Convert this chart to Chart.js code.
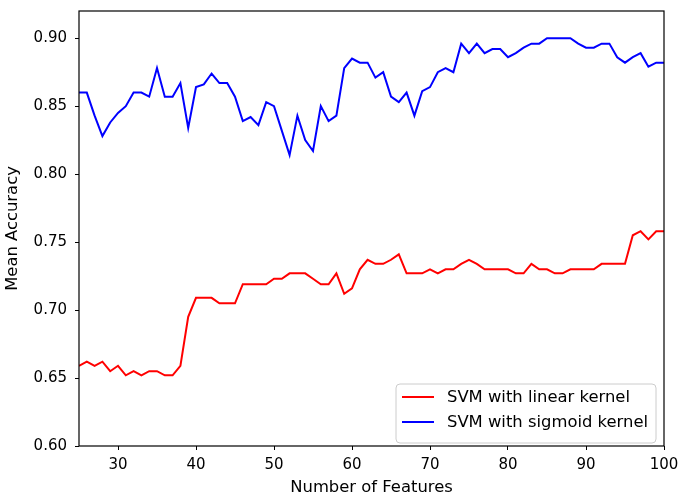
<!DOCTYPE html>
<html>
<head>
<meta charset="utf-8">
<script src="https://cdn.jsdelivr.net/npm/chart.js@4"></script>
<style>
  html, body { margin: 0; padding: 0; background: #fff; }
  canvas { display: block; }
</style>
</head>
<body>
<canvas id="c" width="678" height="495"></canvas>
<script>
const features = [25,26,27,28,29,30,31,32,33,34,35,36,37,38,39,40,41,42,43,44,45,46,47,48,49,50,
  51,52,53,54,55,56,57,58,59,60,61,62,63,64,65,66,67,68,69,70,71,72,73,74,75,
  76,77,78,79,80,81,82,83,84,85,86,87,88,89,90,91,92,93,94,95,96,97,98,99,100];

const linearKernel = [0.659,0.662,0.659,0.662,0.655,0.659,0.652,0.655,0.652,0.655,0.655,0.652,0.652,0.659,0.695,
  0.709,0.709,0.709,0.705,0.705,0.705,0.719,0.719,0.719,0.719,0.723,
  0.723,0.727,0.727,0.727,0.723,0.719,0.719,0.727,0.712,0.716,0.730,0.737,0.734,0.734,0.737,0.741,
  0.727,0.727,0.727,0.730,0.727,0.730,0.730,0.734,0.737,
  0.734,0.730,0.730,0.730,0.730,0.727,0.727,0.734,0.730,0.730,0.727,0.727,0.730,0.730,0.730,0.730,
  0.734,0.734,0.734,0.734,0.755,0.758,0.752,0.758,0.758];

const sigmoidKernel = [0.860,0.860,0.843,0.828,0.838,0.845,0.850,0.860,0.860,0.857,0.878,0.857,0.857,0.867,0.834,
  0.864,0.866,0.874,0.867,0.867,0.857,0.839,0.842,0.836,0.853,0.850,
  0.832,0.814,0.843,0.825,0.817,0.850,0.839,0.843,0.878,0.885,0.882,0.882,0.871,0.875,0.857,0.853,
  0.860,0.843,0.861,0.864,0.875,0.878,0.875,0.896,0.889,
  0.896,0.889,0.892,0.892,0.886,0.889,0.893,0.896,0.896,0.900,0.900,0.900,0.900,0.896,0.893,0.893,
  0.896,0.896,0.886,0.882,0.886,0.889,0.879,0.882,0.882];

const seriesLabels = ['SVM with linear kernel', 'SVM with sigmoid kernel'];
const seriesColors = ['#ff0000', '#0000ff'];
const xTicks = [30,40,50,60,70,80,90,100];
const yTicks = [0.60,0.65,0.70,0.75,0.80,0.85,0.90];
const xTitle = 'Number of Features';
const yTitle = 'Mean Accuracy';

const FONT = 'DejaVu Sans';

const framePlugin = {
  id: 'frame',
  afterDatasetsDraw(chart) {
    const {ctx, chartArea: a} = chart;
    ctx.save();
    ctx.strokeStyle = '#000';
    ctx.lineWidth = 1.2;
    ctx.strokeRect(a.left, a.top, a.right - a.left, a.bottom - a.top);
    ctx.restore();
  }
};

const legendPlugin = {
  id: 'innerLegend',
  afterDraw(chart) {
    const {ctx} = chart;
    const bx = 396, by = 384, bw = 260, bh = 59, r = 4;
    ctx.save();
    ctx.beginPath();
    ctx.moveTo(bx + r, by);
    ctx.lineTo(bx + bw - r, by);
    ctx.arcTo(bx + bw, by, bx + bw, by + r, r);
    ctx.lineTo(bx + bw, by + bh - r);
    ctx.arcTo(bx + bw, by + bh, bx + bw - r, by + bh, r);
    ctx.lineTo(bx + r, by + bh);
    ctx.arcTo(bx, by + bh, bx, by + bh - r, r);
    ctx.lineTo(bx, by + r);
    ctx.arcTo(bx, by, bx + r, by, r);
    ctx.closePath();
    ctx.fillStyle = 'rgba(255,255,255,0.8)';
    ctx.fill();
    ctx.strokeStyle = '#cccccc';
    ctx.lineWidth = 1;
    ctx.stroke();
    chart.data.datasets.forEach((ds, i) => {
      const y = 397 + i * 25;
      ctx.beginPath();
      ctx.moveTo(402, y);
      ctx.lineTo(434, y);
      ctx.strokeStyle = ds.borderColor;
      ctx.lineWidth = 2;
      ctx.stroke();
      ctx.fillStyle = '#000';
      ctx.font = '16.4px "' + FONT + '"';
      ctx.textBaseline = 'middle';
      ctx.textAlign = 'left';
      ctx.fillText(ds.label, 447, y + 1);
    });
    ctx.restore();
  }
};

new Chart(document.getElementById('c'), {
  type: 'line',
  data: {
    datasets: [
      {
        label: seriesLabels[0],
        data: features.map((f, i) => ({x: f, y: linearKernel[i]})),
        borderColor: seriesColors[0],
        backgroundColor: seriesColors[0],
        borderWidth: 2,
        pointRadius: 0,
        tension: 0,
        fill: false
      },
      {
        label: seriesLabels[1],
        data: features.map((f, i) => ({x: f, y: sigmoidKernel[i]})),
        borderColor: seriesColors[1],
        backgroundColor: seriesColors[1],
        borderWidth: 2,
        pointRadius: 0,
        tension: 0,
        fill: false
      }
    ]
  },
  options: {
    responsive: false,
    animation: false,
    devicePixelRatio: 1,
    layout: { padding: { left: 0, right: 14, top: 11, bottom: 0 } },
    plugins: {
      legend: { display: false },
      tooltip: { enabled: false }
    },
    scales: {
      x: {
        type: 'linear',
        min: 25,
        max: 100,
        afterBuildTicks: (s) => { s.ticks = xTicks.map(v => ({value: v})); },
        afterFit: (s) => { s.height = 49; s.paddingLeft = 0; s.paddingRight = 0; },
        ticks: {
          autoSkip: false,
          maxRotation: 0,
          color: '#000',
          padding: 6,
          font: { family: FONT, size: 15 },
          callback: (v) => String(v)
        },
        grid: { display: true, drawOnChartArea: false, drawTicks: true, tickLength: 4, color: '#000', lineWidth: 1 },
        border: { display: false },
        title: {
          display: true,
          text: xTitle,
          color: '#000',
          font: { family: FONT, size: 16.4 },
          padding: { top: 0, bottom: -2.5 }
        }
      },
      y: {
        type: 'linear',
        min: 0.6,
        max: 0.92,
        afterBuildTicks: (s) => { s.ticks = yTicks.map(v => ({value: v})); },
        afterFit: (s) => { s.width = 79; s.paddingTop = 0; s.paddingBottom = 0; },
        ticks: {
          autoSkip: false,
          color: '#000',
          padding: 8,
          font: { family: FONT, size: 15 },
          callback: (v) => Number(v).toFixed(2)
        },
        grid: { display: true, drawOnChartArea: false, drawTicks: true, tickLength: 4, color: '#000', lineWidth: 1 },
        border: { display: false },
        title: {
          display: true,
          text: yTitle,
          color: '#000',
          font: { family: FONT, size: 16.4 },
          padding: { top: 2.5, bottom: 0 }
        }
      }
    }
  },
  plugins: [framePlugin, legendPlugin]
});
</script>
</body>
</html>
